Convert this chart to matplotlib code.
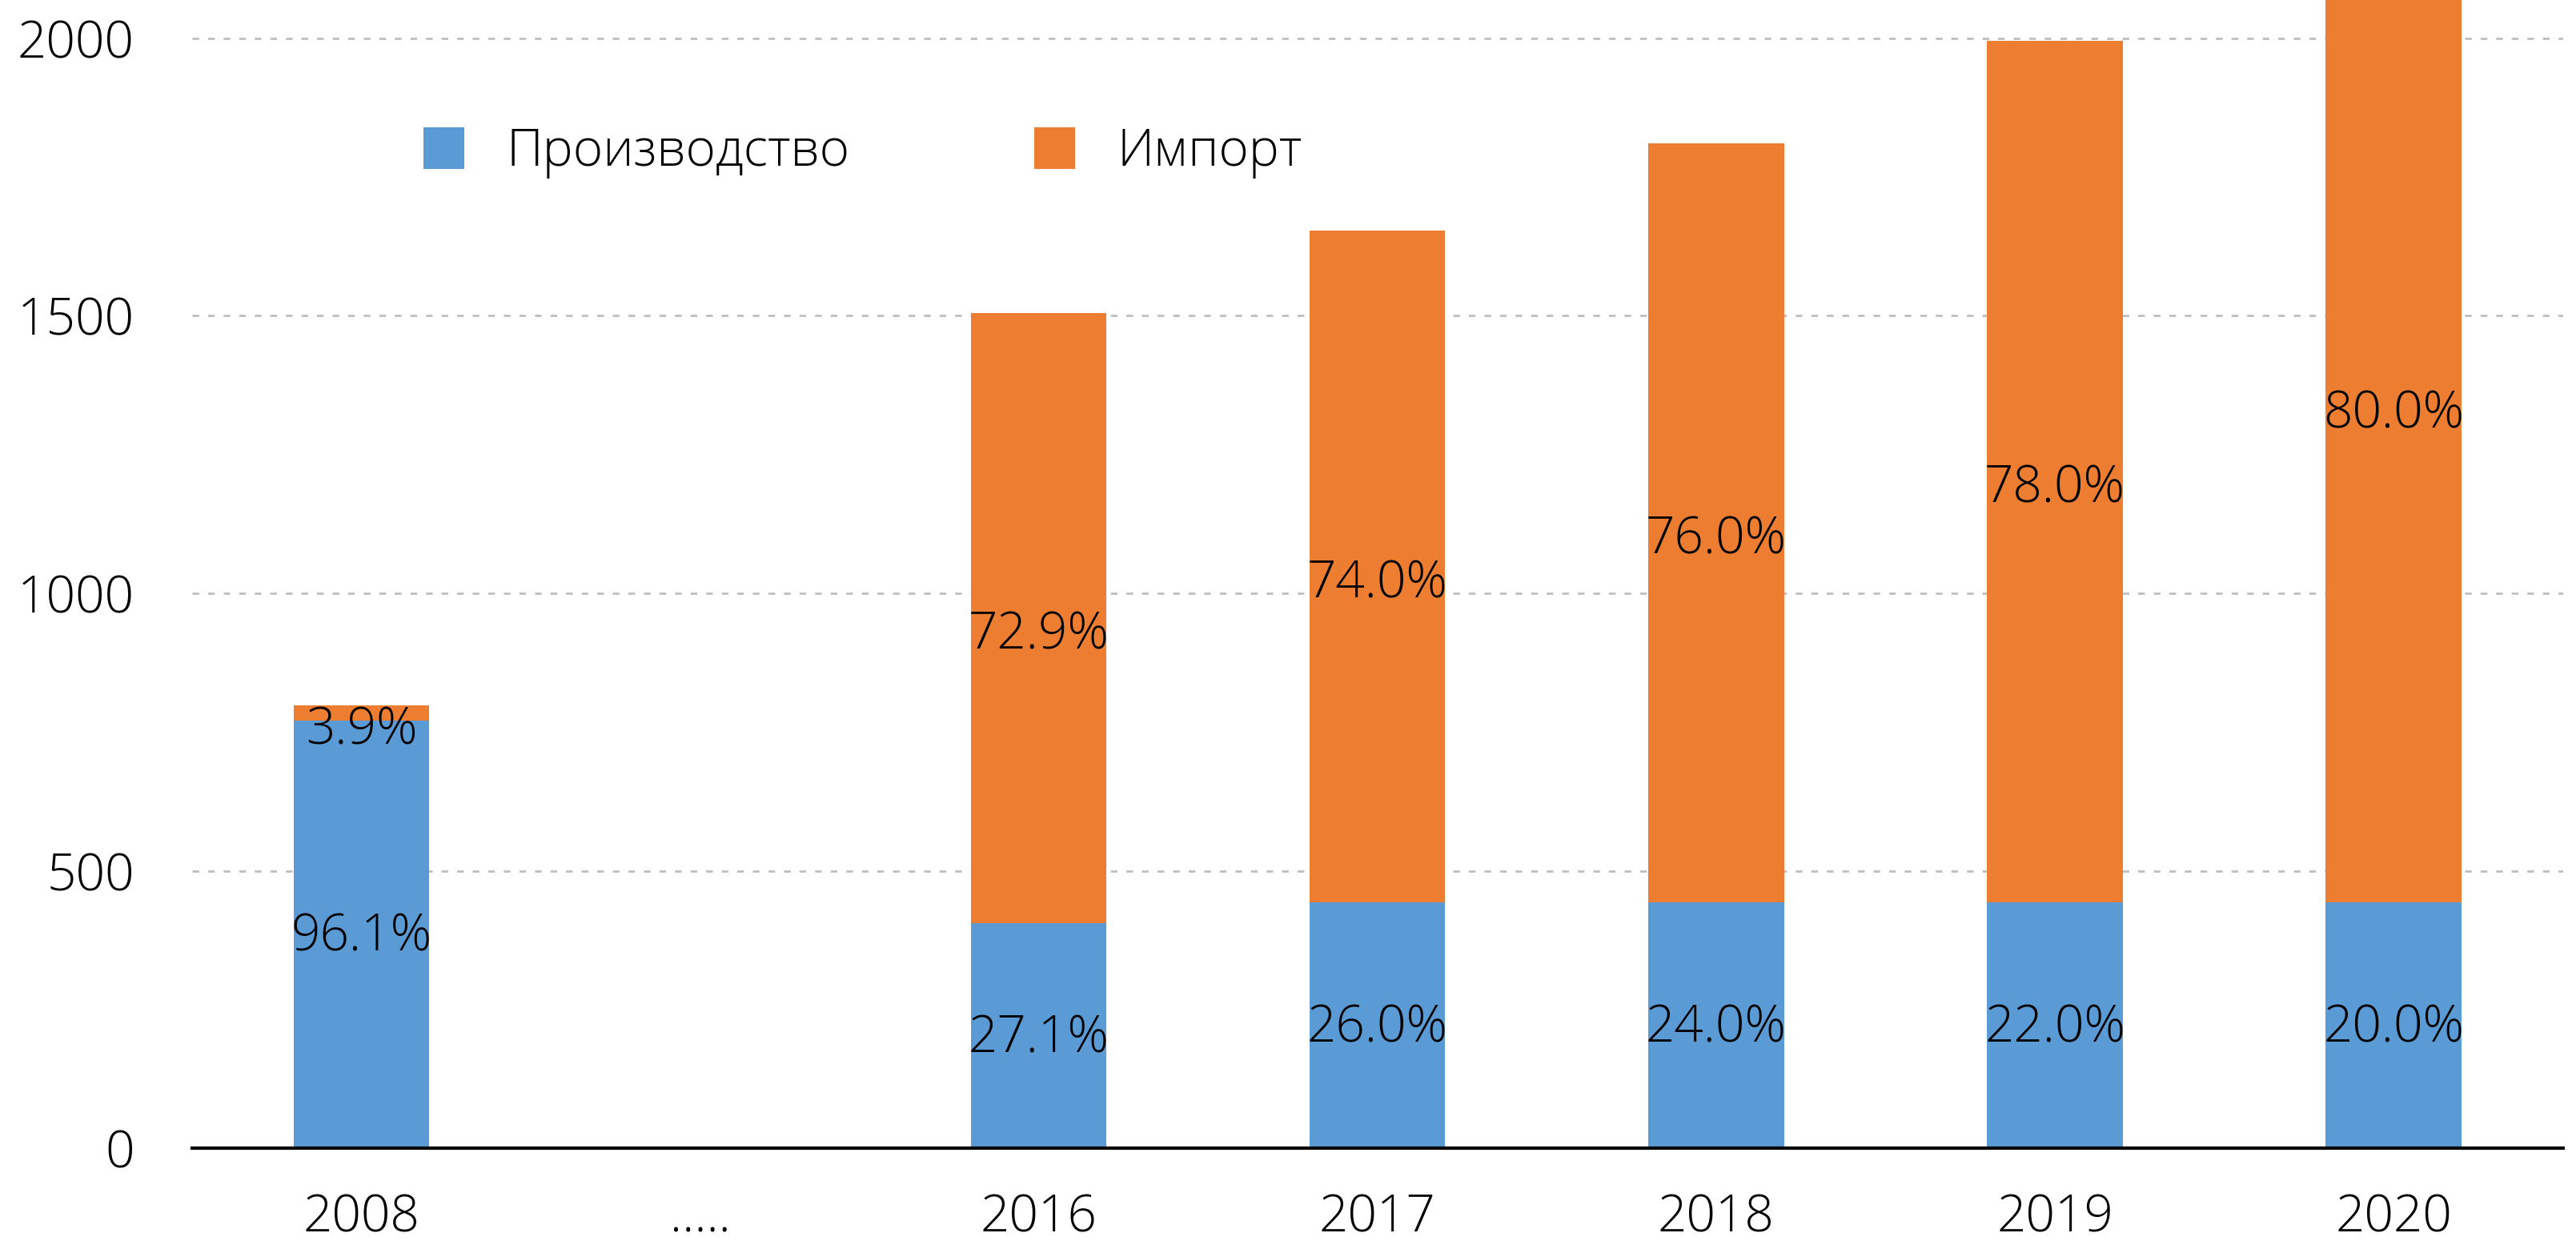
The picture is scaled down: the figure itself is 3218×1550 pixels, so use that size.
import matplotlib
matplotlib.use("Agg")
import matplotlib.pyplot as plt
import matplotlib.font_manager as fm
import numpy as np

# data
categories = ["2008", "…..", "2016", "2017", "2018", "2019", "2020"]
production = [770, 0, 405, 443, 443, 443, 443]
imports = [28, 0, 1100, 1210, 1368, 1552, 1820]
prodLabels = ["96.1%", "", "27.1%", "26.0%", "24.0%", "22.0%", "20.0%"]
importLabels = ["3.9%", "", "72.9%", "74.0%", "76.0%", "78.0%", "80.0%"]
yTicks = [0, 500, 1000, 1500, 2000]

blue = "#5B9BD5"
orange = "#ED7D31"

# pick a light font if one is installed
family = 'Open Sans'
for name in ['Open Sans', 'Noto Sans', 'Lato', 'Roboto']:
    found = [f for f in fm.fontManager.ttflist
             if f.name == name and 'Light' in f.fname and 'Italic' not in f.fname]
    if found:
        family = name
        break
plt.rcParams['font.family'] = [family, 'DejaVu Sans']
plt.rcParams['font.weight'] = 'light'
fs = 46

fig = plt.figure(figsize=(32.18, 15.5), dpi=100)
ax = fig.add_axes([0.0746, 0.0748, 0.9203, 0.9252])

x = np.arange(len(categories))
ax.bar(x, production, width=0.40, color=blue, label="Производство", zorder=2)
ax.bar(x, imports, width=0.40, bottom=production, color=orange, label="Импорт", zorder=2)

# percentage labels in the middle of each segment
for i in range(len(categories)):
    if prodLabels[i]:
        ax.annotate(prodLabels[i], (x[i], production[i] / 2), xytext=(0, -3),
                    textcoords='offset points', ha='center', va='center', fontsize=fs, zorder=4)
    if importLabels[i]:
        ax.annotate(importLabels[i], (x[i], production[i] + imports[i] / 2), xytext=(0, -16),
                    textcoords='offset points', ha='center', va='center', fontsize=fs, zorder=4,
                    annotation_clip=False)

ax.set_xlim(-0.5, 6.5)
ax.set_ylim(0, 2069)
ax.set_yticks(yTicks)
ax.set_xticks(x)
ax.set_xticklabels(categories)
ax.tick_params(axis='y', length=0, pad=52, labelsize=fs)
ax.tick_params(axis='x', length=0, pad=40, labelsize=fs)

ax.yaxis.grid(True, color='#BFBFBF', linestyle=(0, (3, 4)), linewidth=2, zorder=0)
ax.set_axisbelow(True)
for s in ['top', 'right', 'left']:
    ax.spines[s].set_visible(False)
ax.spines['bottom'].set_linewidth(3)
ax.spines['bottom'].set_color('black')
ax.spines['bottom'].set_zorder(3)

ax.legend(loc='center left', bbox_to_anchor=(0.0976, 0.867), ncol=2, frameon=False,
          fontsize=fs, handlelength=0.8, handleheight=0.88, handletextpad=0.82,
          columnspacing=3.6, borderpad=0, borderaxespad=0)

fig.savefig("out.png", dpi=100)
